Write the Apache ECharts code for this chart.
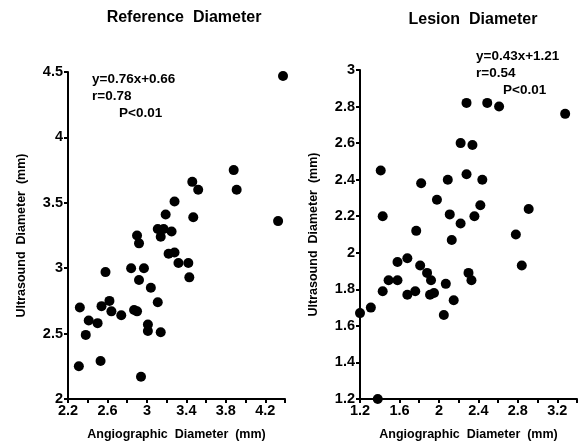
<!DOCTYPE html>
<html>
<head>
<meta charset="utf-8">
<script src="https://cdn.jsdelivr.net/npm/echarts@6/dist/echarts.min.js"></script>
<style>
  html, body { margin: 0; padding: 0; background: #fff; }
  #chart { width: 586px; height: 448px; }
</style>
</head>
<body>
<div id="chart"></div>
<script>
// Reference Diameter: angiographic (x) vs ultrasound (y), mm
var refX = [4.38, 3.88, 3.46, 3.52, 3.91, 3.28, 3.19, 3.47, 4.33, 3.11, 3.17, 3.25, 3.14, 2.90,
  2.92, 3.22, 3.28, 3.32, 3.42, 3.43, 2.84, 2.97, 2.58, 2.92, 3.04, 3.11, 2.32, 2.54, 2.62,
  2.64, 2.74, 2.87, 2.90, 2.41, 2.50, 2.38, 3.01, 3.01, 3.14, 2.31, 2.53, 2.94];
var refY = [4.47, 3.75, 3.66, 3.60, 3.60, 3.51, 3.41, 3.39, 3.36, 3.30, 3.30, 3.28, 3.24, 3.25,
  3.19, 3.11, 3.12, 3.04, 3.04, 2.93, 3.00, 3.00, 2.97, 2.91, 2.85, 2.74, 2.70, 2.71, 2.75,
  2.67, 2.64, 2.68, 2.67, 2.60, 2.58, 2.49, 2.57, 2.52, 2.51, 2.25, 2.29, 2.17];

// Lesion Diameter
var lesX = [2.28, 2.49, 2.61, 3.28, 2.22, 2.34, 1.41, 2.28, 1.82, 2.09, 2.44, 1.98, 2.42, 2.91,
  1.43, 2.11, 2.36, 2.22, 1.77, 2.13, 2.78, 1.68, 1.58, 1.81, 2.84, 1.88, 2.30, 1.49, 1.58,
  1.92, 2.33, 2.07, 1.43, 1.68, 1.76, 1.91, 1.95, 2.15, 2.05, 1.20, 1.31, 1.38];
var lesY = [2.82, 2.82, 2.80, 2.76, 2.60, 2.59, 2.45, 2.43, 2.38, 2.40, 2.40, 2.29, 2.26, 2.24,
  2.20, 2.21, 2.20, 2.16, 2.12, 2.07, 2.10, 1.97, 1.95, 1.93, 1.93, 1.89, 1.89, 1.85, 1.85,
  1.85, 1.85, 1.83, 1.79, 1.77, 1.79, 1.77, 1.78, 1.74, 1.66, 1.67, 1.70, 1.20];

var titles = ['Reference  Diameter', 'Lesion  Diameter'];
var fits = [['y=0.76x+0.66', 'r=0.78', 'P<0.01'], ['y=0.43x+1.21', 'r=0.54', 'P<0.01']];
var xTitle = 'Angiographic  Diameter  (mm)';
var yTitle = 'Ultrasound  Diameter  (mm)';

function pairs(xs, ys) {
  return xs.map(function (x, i) { return [x, ys[i]]; });
}

var font = 'Liberation Sans';
var black = '#000';

function xAxis(idx, min, max, rem) {
  return {
    gridIndex: idx, type: 'value', min: min, max: max, interval: 0.2,
    name: xTitle, nameLocation: 'middle', nameGap: 29,
    nameTextStyle: { fontFamily: font, fontWeight: 'bold', fontSize: 12.5, color: black },
    axisLine: { lineStyle: { color: black, width: 2 } },
    axisTick: { length: 4, lineStyle: { color: black, width: 2 } },
    splitLine: { show: false },
    axisLabel: {
      fontFamily: font, fontWeight: 'bold', fontSize: 14.5, color: black, margin: 4,
      showMaxLabel: true,
      formatter: function (v) {
        return Math.round(v * 10) % 4 === rem ? String(parseFloat(v.toFixed(1))) : '';
      }
    }
  };
}

function yAxis(idx, min, max, step) {
  return {
    gridIndex: idx, type: 'value', min: min, max: max, interval: step,
    name: yTitle, nameLocation: 'middle', nameGap: 40,
    nameTextStyle: { fontFamily: font, fontWeight: 'bold', fontSize: 12.5, color: black },
    axisLine: { show: true, lineStyle: { color: black, width: 2 } },
    axisTick: { show: true, length: 4, lineStyle: { color: black, width: 2 } },
    splitLine: { show: false },
    axisLabel: {
      fontFamily: font, fontWeight: 'bold', fontSize: 14.5, color: black, margin: 5,
      formatter: function (v) { return String(parseFloat(v.toFixed(1))); }
    }
  };
}

function fitText(lines, x, y) {
  return lines.map(function (t, i) {
    return {
      type: 'text', left: i === 2 ? x + 27 : x, top: y + i * 17,
      style: { text: t, fontFamily: font, fontWeight: 'bold', fontSize: 13.5, fill: black }
    };
  });
}

var chart = echarts.init(document.getElementById('chart'));
chart.setOption({
  animation: false,
  title: [
    { text: titles[0], left: 179, top: 5, textAlign: 'center',
      textStyle: { fontFamily: font, fontWeight: 'bold', fontSize: 16, color: black } },
    { text: titles[1], left: 468, top: 7, textAlign: 'center',
      textStyle: { fontFamily: font, fontWeight: 'bold', fontSize: 16, color: black } }
  ],
  grid: [
    { left: 68, top: 72, width: 217, height: 327 },
    { left: 360, top: 70, width: 217, height: 329 }
  ],
  xAxis: [xAxis(0, 2.2, 4.4, 2), xAxis(1, 1.2, 3.4, 0)],
  yAxis: [yAxis(0, 2, 4.5, 0.5), yAxis(1, 1.2, 3, 0.2)],
  series: [
    { type: 'scatter', xAxisIndex: 0, yAxisIndex: 0, data: pairs(refX, refY),
      symbolSize: 10, clip: false, itemStyle: { color: black, opacity: 1 } },
    { type: 'scatter', xAxisIndex: 1, yAxisIndex: 1, data: pairs(lesX, lesY),
      symbolSize: 10, clip: false, itemStyle: { color: black, opacity: 1 } }
  ],
  graphic: fitText(fits[0], 92, 72).concat(fitText(fits[1], 476, 49))
});
</script>
</body>
</html>
